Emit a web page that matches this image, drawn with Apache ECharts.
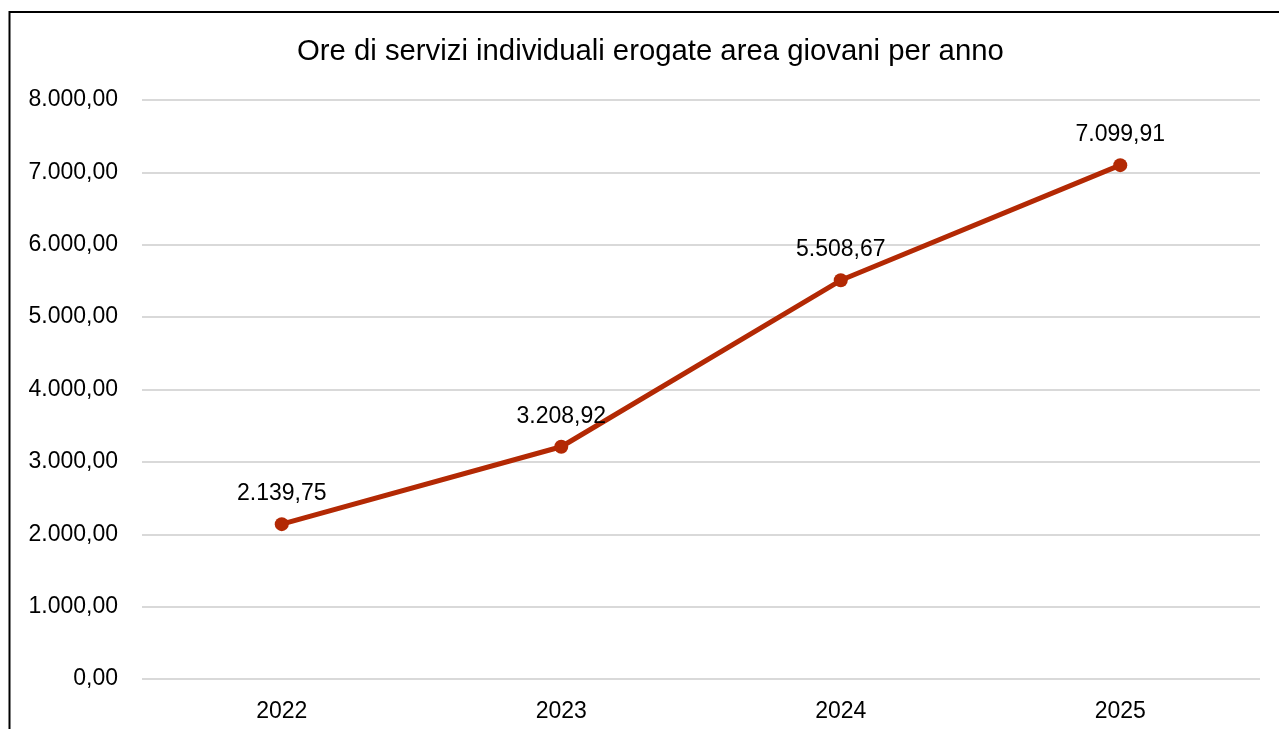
<!DOCTYPE html>
<html><head><meta charset="utf-8">
<script src="https://cdn.jsdelivr.net/npm/echarts@6/dist/echarts.min.js"></script>
<style>html,body{margin:0;padding:0;background:#fff}#c{width:1279px;height:729px}</style>
</head><body><div id="c"></div>
<script>
const categories = ['2022', '2023', '2024', '2025'];
const values = [2139.75, 3208.92, 5508.67, 7099.91];
const titleText = 'Ore di servizi individuali erogate area giovani per anno';

function fmt(v) {
  const parts = v.toFixed(2).split('.');
  parts[0] = parts[0].replace(/\B(?=(\d{3})+(?!\d))/g, '.');
  return parts[0] + ',' + parts[1];
}

const chart = echarts.init(document.getElementById('c'), null, {renderer: 'canvas'});
chart.setOption({
  animation: false,
  textStyle: {fontFamily: 'Liberation Sans, Arial, sans-serif'},
  title: {
    text: titleText, left: 292, top: 32,
    textStyle: {fontSize: 29.3, fontWeight: 'normal', color: '#000', fontFamily: 'Liberation Sans'}
  },
  graphic: [{
    type: 'rect', shape: {x: 9.5, y: 12, width: 1300, height: 800},
    style: {fill: 'none', stroke: '#000', lineWidth: 2}, silent: true
  }],
  grid: {left: 142, right: 19, top: 100, bottom: 50},
  xAxis: {
    type: 'category', data: categories, boundaryGap: true,
    axisLine: {show: false}, axisTick: {show: false},
    axisLabel: {fontSize: 23, color: '#000', margin: 21, fontFamily: 'Liberation Sans'}
  },
  yAxis: {
    type: 'value', min: 0, max: 8000, interval: 1000,
    axisLine: {show: false}, axisTick: {show: false},
    splitLine: {lineStyle: {color: '#d9d9d9', width: 2}},
    axisLabel: {fontSize: 23, color: '#000', margin: 24, formatter: v => fmt(v), fontFamily: 'Liberation Sans'}
  },
  series: [{
    type: 'line', data: values,
    symbol: 'circle', symbolSize: 14,
    lineStyle: {color: '#b32904', width: 5},
    itemStyle: {color: '#b32904'},
    label: {show: true, position: 'top', distance: 12, fontSize: 23, color: '#000',
      formatter: p => fmt(p.value), fontFamily: 'Liberation Sans'}
  }]
});
</script></body></html>
